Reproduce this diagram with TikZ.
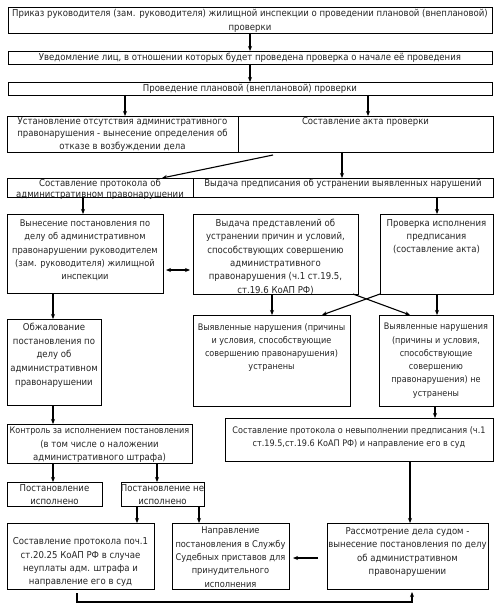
\documentclass[tikz,border=0pt]{standalone}
\usepackage{fontspec}
\setmainfont{DejaVu Sans Condensed}
\usetikzlibrary{arrows.meta,calc}
\tikzset{
 bx/.style={draw=black, line width=0.8pt, inner sep=0pt, outer sep=0pt, anchor=north west},
 tx/.style={anchor=north, align=center, inner sep=0pt, font=\fontsize{9.5}{13.3}\selectfont, text=black!85},
 fsm/.style={font=\fontsize{9}{13.3}\selectfont},
 tip/.tip={Stealth[length=5pt,width=4pt]},
 arr/.style={line width=1.1pt, -tip},
 darr/.style={line width=1.1pt, tip-tip},
}
\newcommand\mkbox[7][]{\node[bx, minimum width={#5pt-#3pt}, minimum height={#6pt-#4pt}] (#2) at (#3,#4) {};
 \node[tx, yshift=-2.5pt, #1] (#2t) at (#2.north) {#7};}
\begin{document}
\begin{tikzpicture}[x=1pt,y=-1pt]
\fill[white] (0,0) rectangle (500,609);
\useasboundingbox (0,0) rectangle (500,609);
\mkbox{b1}{8}{7}{492}{33}{Приказ руководителя (зам. руководителя) жилищной инспекции о проведении плановой (внеплановой)\\проверки}
\mkbox[yshift=0.5pt]{b2}{8}{51}{492}{64}{Уведомление лиц, в отношении которых будет проведена проверка о начале её проведения}
\mkbox[yshift=0.5pt]{b3}{8}{82}{492}{95}{Проведение плановой (внеплановой) проверки}
\mkbox[yshift=1.5pt, font=\fontsize{9.5}{12.7}\selectfont]{b4a}{7}{116}{238}{152}{Установление отсутствия административного\\правонарушения - вынесение определения об\\отказе в возбуждении дела}
\mkbox[yshift=1.5pt]{b4b}{238}{116}{493}{152}{Составление акта проверки}
\mkbox[yshift=1.5pt, font=\fontsize{9.5}{10.8}\selectfont]{b5a}{7}{178}{193}{197}{Составление протокола об\\административном правонарушении}
\mkbox[yshift=1.5pt]{b5b}{193}{178}{493}{197}{Выдача предписания об устранении выявленных нарушений}
\mkbox[yshift=-3pt, font=\fontsize{9.2}{13.3}\selectfont]{b6}{7}{214}{163}{293}{Вынесение постановления по\\делу об административном\\правонарушении руководителем\\(зам. руководителя) жилищной\\инспекции}
\mkbox[yshift=-2.5pt]{b7}{193}{214}{358}{294}{Выдача представлений об\\устранении причин и условий,\\способствующих совершению\\административного\\правонарушения (ч.1 ст.19.5,\\ст.19.6 КоАП РФ)}
\mkbox[yshift=-2.5pt]{b8}{380}{214}{493}{294}{Проверка исполнения\\предписания\\(составление акта)}
\mkbox[yshift=-1.5pt, font=\fontsize{9.5}{13.7}\selectfont]{b9}{7}{319}{101}{405}{Обжалование\\постановления по\\делу об\\административном\\правонарушении}
\mkbox[yshift=-5.5pt, fsm]{b11}{193}{315}{350}{406}{Выявленные нарушения (причины\\и условия, способствующие\\совершению правонарушения)\\устранены}
\mkbox[yshift=-5.5pt, fsm]{b12}{379}{315}{493}{406}{Выявленные нарушения\\(причины и условия,\\способствующие\\совершению\\правонарушения) не\\устранены}
\mkbox[yshift=-0.5pt]{b10}{7}{424}{192}{463}{{\fontsize{9}{13.3}\selectfont Контроль за исполнением постановления}\\(в том числе о наложении\\административного штрафа)}
\mkbox[yshift=-6pt, fsm]{b13}{225}{418}{493}{461}{Составление протокола о невыполнении предписания (ч.1\\ст.19.5,ст.19.6 КоАП РФ) и направление его в суд}
\mkbox{b17}{7}{482}{102}{506}{Постановление\\исполнено}
\mkbox{b18}{121}{482}{204}{506}{Постановление не\\исполнено}
\mkbox[yshift=-12pt]{b16}{7}{523}{154}{589}{Составление протокола поч.1\\ст.20.25 КоАП РФ в случае\\неуплаты адм. штрафа и\\направление его в суд}
\mkbox[yshift=-1.5pt, font=\fontsize{9.2}{13.3}\selectfont]{b15}{172}{523}{289}{589}{Направление\\постановления в Службу\\Судебных приставов для\\принудительного\\исполнения}
\mkbox[yshift=-2pt]{b14}{327}{523}{488}{589}{Рассмотрение дела судом -\\вынесение постановления по делу\\об административном\\правонарушении}
% connectors
\draw[arr] (b1.south) -- (b2.north);
\draw[arr] (b2.south) -- (b3.north);
\draw[arr] (125,0 |- b3.south) -- (125,0 |- b4a.north);
\draw[arr] (368,0 |- b3.south) -- (368,0 |- b4b.north);
\draw[arr] ($(273,0 |- b4b.south)+(0,3)$) -- (162,0 |- b5a.north);
\draw[arr] (342,0 |- b4b.south) -- (342,0 |- b5b.north);
\draw[arr] (83,0 |- b5a.south) -- (83,0 |- b6.north);
\draw[arr] (437,0 |- b5b.south) -- (437,0 |- b8.north);
\draw[darr] ($(b6.east |- 0,270)+(3,0)$) -- ($(b7.west |- 0,270)+(-3,0)$);
\draw[arr] (53,0 |- b6.south) -- (53,0 |- b9.north);
\draw[arr] (272,0 |- b7.south) -- (272,0 |- b11.north);
\draw[arr] (353,0 |- b7.south) -- (410,0 |- b12.north);
\draw[arr] (b8.south west) -- (322,0 |- b11.north);
\draw[arr] (437,0 |- b8.south) -- (437,0 |- b12.north);
\draw[arr] (53,0 |- b9.south) -- (53,0 |- b10.north);
\draw[arr] (435,0 |- b12.south) -- (435,0 |- b13.north);
\draw[arr] (410,0 |- b13.south) -- (410,0 |- b14.north);
\draw[arr] (53,0 |- b10.south) -- (53,0 |- b17.north);
\draw[arr] (157,0 |- b10.south) -- (157,0 |- b18.north);
\draw[arr] (137,0 |- b18.south) -- (137,0 |- b16.north);
\draw[arr] (199,0 |- b18.south) -- (199,0 |- b15.north);
\draw[arr] ($(b14.west |- 0,558)+(-9,0)$) -- ($(b15.east |- 0,558)+(4,0)$);
\coordinate (c1) at (77,602);
\coordinate (c2) at (412,602);
\draw[arr] ($(77,0 |- b16.south)+(0,4)$) -- (c1) -- (c2) -- ($(412,0 |- b14.south)+(0,3)$);
\end{tikzpicture}
\end{document}
